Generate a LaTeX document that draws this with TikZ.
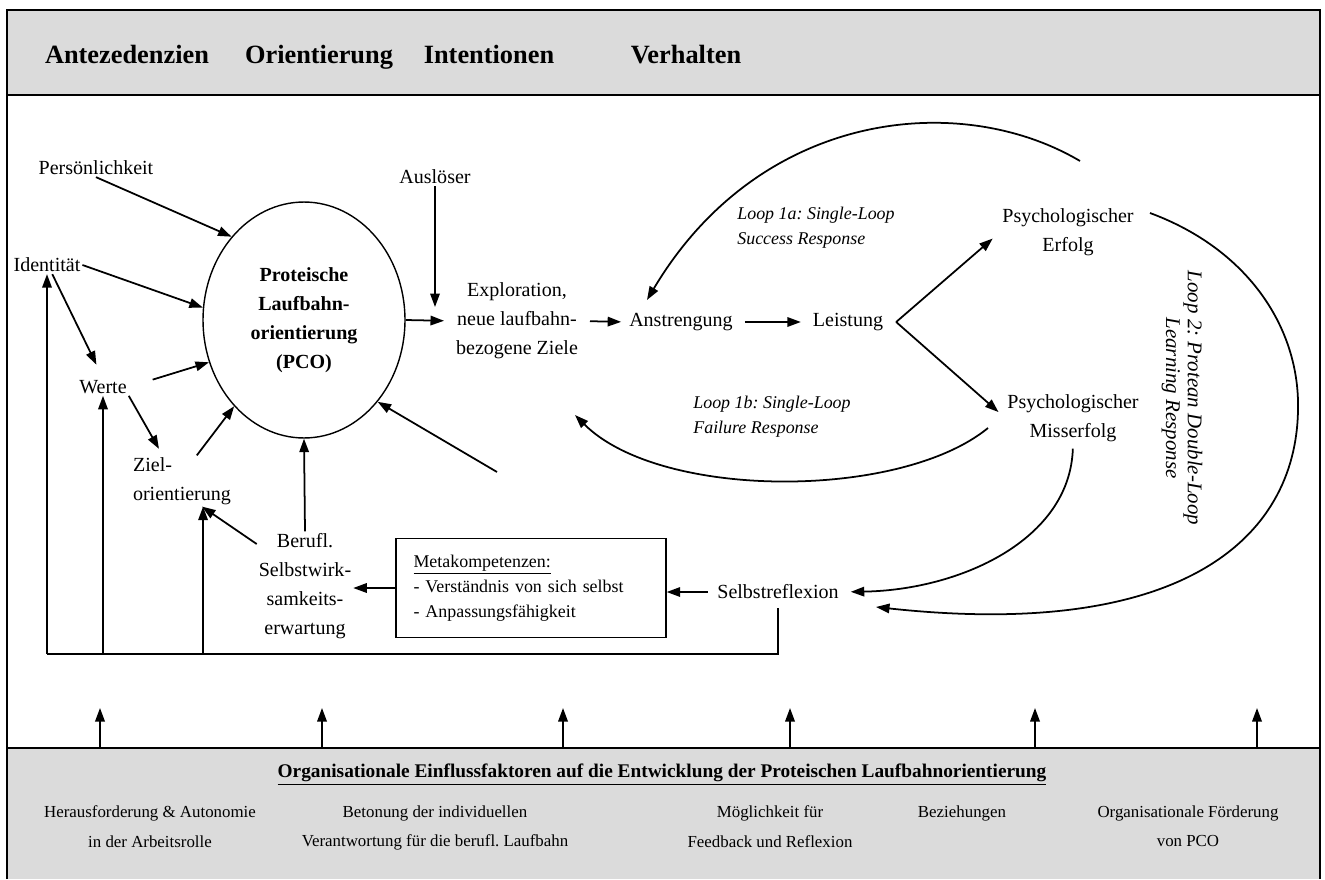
\documentclass[tikz,border=0pt]{standalone}
\usepackage{fontspec}
\setmainfont{Liberation Serif}
\usetikzlibrary{arrows,arrows.meta,shapes.geometric}
\frenchspacing

\definecolor{bandgray}{gray}{0.86}
\tikzset{
  arr/.style={line width=1pt,-{Triangle[length=0.27cm,width=0.19cm]}},
  txt/.style={font=\fontsize{11.4}{16.4}\selectfont, align=center, inner sep=1pt},
  looplbl/.style={font=\fontsize{10.2}{14.2}\selectfont\itshape, align=left, inner sep=0pt},
  head/.style={font=\fontsize{15}{18}\selectfont\bfseries, inner sep=0pt, anchor=base},
  orgtxt/.style={font=\fontsize{9.6}{17}\selectfont, align=center, inner sep=0pt, anchor=north},
}

\begin{document}
\begin{tikzpicture}[x=0.02cm,y=-0.02cm]
      \useasboundingbox (0,0) rectangle (1325,879);

      % bands and frame
      \fill[bandgray] (7,10) rectangle (1320,95);
      \fill[bandgray] (7,748) rectangle (1320,879);
      \draw[line width=0.8pt] (7,879) -- (7,10) -- (1320,10) -- (1320,879);
      \draw[line width=0.8pt] (7,95) -- (1320,95) (7,748) -- (1320,748);

      % headings
      \node[head] (hant) at (127,63) {Antezedenzien};
      \node[head] (hori) at (319,63) {Orientierung};
      \node[head] (hint) at (489,63) {Intentionen};
      \node[head] (hver) at (686,63) {Verhalten};

      % antecedents
      \node[txt] (pers) at (96,168) {Persönlichkeit};
      \node[txt] (ident) at (47,265) {Identität};
      \node[txt] (werte) at (103,387) {Werte};
      \node[txt, align=left] (ziel) at (182,481) {Ziel-\\orientierung};
      \node[txt] (beruf) at (305,586) {Berufl.\\Selbstwirk-\\samkeits-\\erwartung};

      % orientation
      \node[ellipse, draw, line width=0.8pt, minimum width=4.04cm, minimum height=4.72cm,
            txt, font=\fontsize{11.4}{16.5}\selectfont\bfseries] (pco) at (304,320)
            {Proteische\\Laufbahn-\\orientierung\\(PCO)};

      % intentions and behaviour
      \node[txt] (ausl) at (435,177) {Auslöser};
      \node[txt] (explor) at (517,321) {Exploration,\\neue laufbahn-\\bezogene Ziele};
      \node[txt] (anstr) at (681,322) {Anstrengung};
      \node[txt] (leist) at (848,322) {Leistung};
      \node[txt] (erfolg) at (1068,232) {Psychologischer\\Erfolg};
      \node[txt] (miss) at (1073,418) {Psychologischer\\Misserfolg};
      \node[txt] (selbst) at (778,592) {Selbstreflexion};
      \node[draw, line width=0.8pt, minimum width=5.4cm, minimum height=1.98cm,
            font=\fontsize{10.2}{14.2}\selectfont, align=left, text width=4.7cm] (meta) at (531,588)
            {\underline{Metakompetenzen:}\\- Verständnis von sich selbst\\- Anpassungsfähigkeit};

      % loop labels
      \node[looplbl] (lonea) at (816,228) {Loop 1a: Single-Loop\\Success Response};
      \node[looplbl] (loneb) at (772,417) {Loop 1b: Single-Loop\\Failure Response};
      \node[looplbl, align=center, rotate=-90, font=\fontsize{11.9}{12.5}\selectfont\itshape] (ltwo) at (1182,398)
            {Loop 2: Protean Double-Loop\\Learning Response};

      % arrows into the PCO
      \draw[arr] (pers.south) -- (pco.131);
      \draw[arr] (ident.east) -- (pco.173);
      \draw[arr, shorten >=0.3cm] (ident.-60) -- (werte.north);
      \draw[arr, shorten <=0.5cm] (werte.east) -- (pco.204);
      \draw[arr, shorten >=0.15cm] (werte.south east) -- (ziel.127);
      \draw[arr] (ziel.60) -- (pco.231);
      \draw[arr] (beruf.north) -- (pco.south);
      \draw[arr] (beruf.139) -- (ziel.-52);
      \draw[arr] (meta.west) -- (meta.west -| beruf.east);
      \draw[arr, shorten <=0.15cm] (selbst.west) -- (selbst.west -| meta.east);
      \coordinate (pcoin) at (497,472);
      \draw[arr] (pcoin) -- (pco.-48);

      % chain
      \draw[arr, shorten >=0.2cm] (pco.east) -- (explor.west);
      \draw[arr, shorten >=0.26cm] (ausl.south) -- (ausl.south |- pco.east);
      \draw[arr, shorten <=0.2cm, shorten >=0.12cm] (explor.east) -- (anstr.west);
      \draw[arr, shorten <=0.2cm, shorten >=0.2cm] (anstr.east) -- (leist.west);
      \coordinate (fork) at ([xshift=0.22cm]leist.east);
      \draw[arr, shorten >=0.2cm] (fork) -- (erfolg.west);
      \draw[arr, shorten >=0.18cm] (fork) -- (miss.west);

      % loops
      \coordinate (loneaS) at (1080,161); \coordinate (loneaE) at (647,300);
      \draw[arr] (loneaS) .. controls (960,90) and (760,110) .. (loneaE);
      \coordinate (lonebS) at (988,428); \coordinate (lonebE) at (575,415);
      \draw[arr] (lonebS) .. controls (900,500) and (660,500) .. (lonebE);
      \draw[arr, shorten <=0.1cm, shorten >=0.2cm] (miss.south) .. controls (1070,540) and (960,590) .. (selbst.east);
      \coordinate (ltwoS) at (1150,213); \coordinate (ltwoE) at (876,607);
      \draw[arr] (ltwoS) .. controls (1250,250) and (1300,330) .. (1298,410)
                 .. controls (1296,540) and (1180,640) .. (ltwoE);

      % feedback
      \coordinate (fb) at (0,654);
      \draw[line width=1pt, shorten <=0.14cm] (selbst.south) |- (fb -| ident.south);
      \draw[arr] (fb -| ident.south) -- (ident.south);
      \draw[arr] (fb -| werte.south) -- (werte.south);
      \coordinate (zielin) at ([xshift=-0.6cm]ziel.south east);
      \draw[arr] (fb -| zielin) -- (zielin);

      % organisational influences
      \node[font=\fontsize{11}{13}\selectfont\bfseries] (orgtitle) at (662,775)
            {\underline{Organisationale Einflussfaktoren auf die Entwicklung der Proteischen Laufbahnorientierung}};
      \node[orgtxt] (orga) at (150,805) {Herausforderung \& Autonomie\\in der Arbeitsrolle};
      \node[orgtxt] (orgb) at (435,805) {Betonung der individuellen\\Verantwortung für die berufl. Laufbahn};
      \node[orgtxt] (orgc) at (770,805) {Möglichkeit für\\Feedback und Reflexion};
      \node[orgtxt] (orgd) at (962,805) {Beziehungen};
      \node[orgtxt] (orge) at (1188,805) {Organisationale Förderung\\von PCO};
      \foreach \x [count=\i] in {100,322,563,790,1035,1257} {
        \path (\x,748) coordinate (base\i);
        \path (\x,708) coordinate (tip\i);
        \draw[arr] (base\i) -- (tip\i);
      }

\end{tikzpicture}
\end{document}
